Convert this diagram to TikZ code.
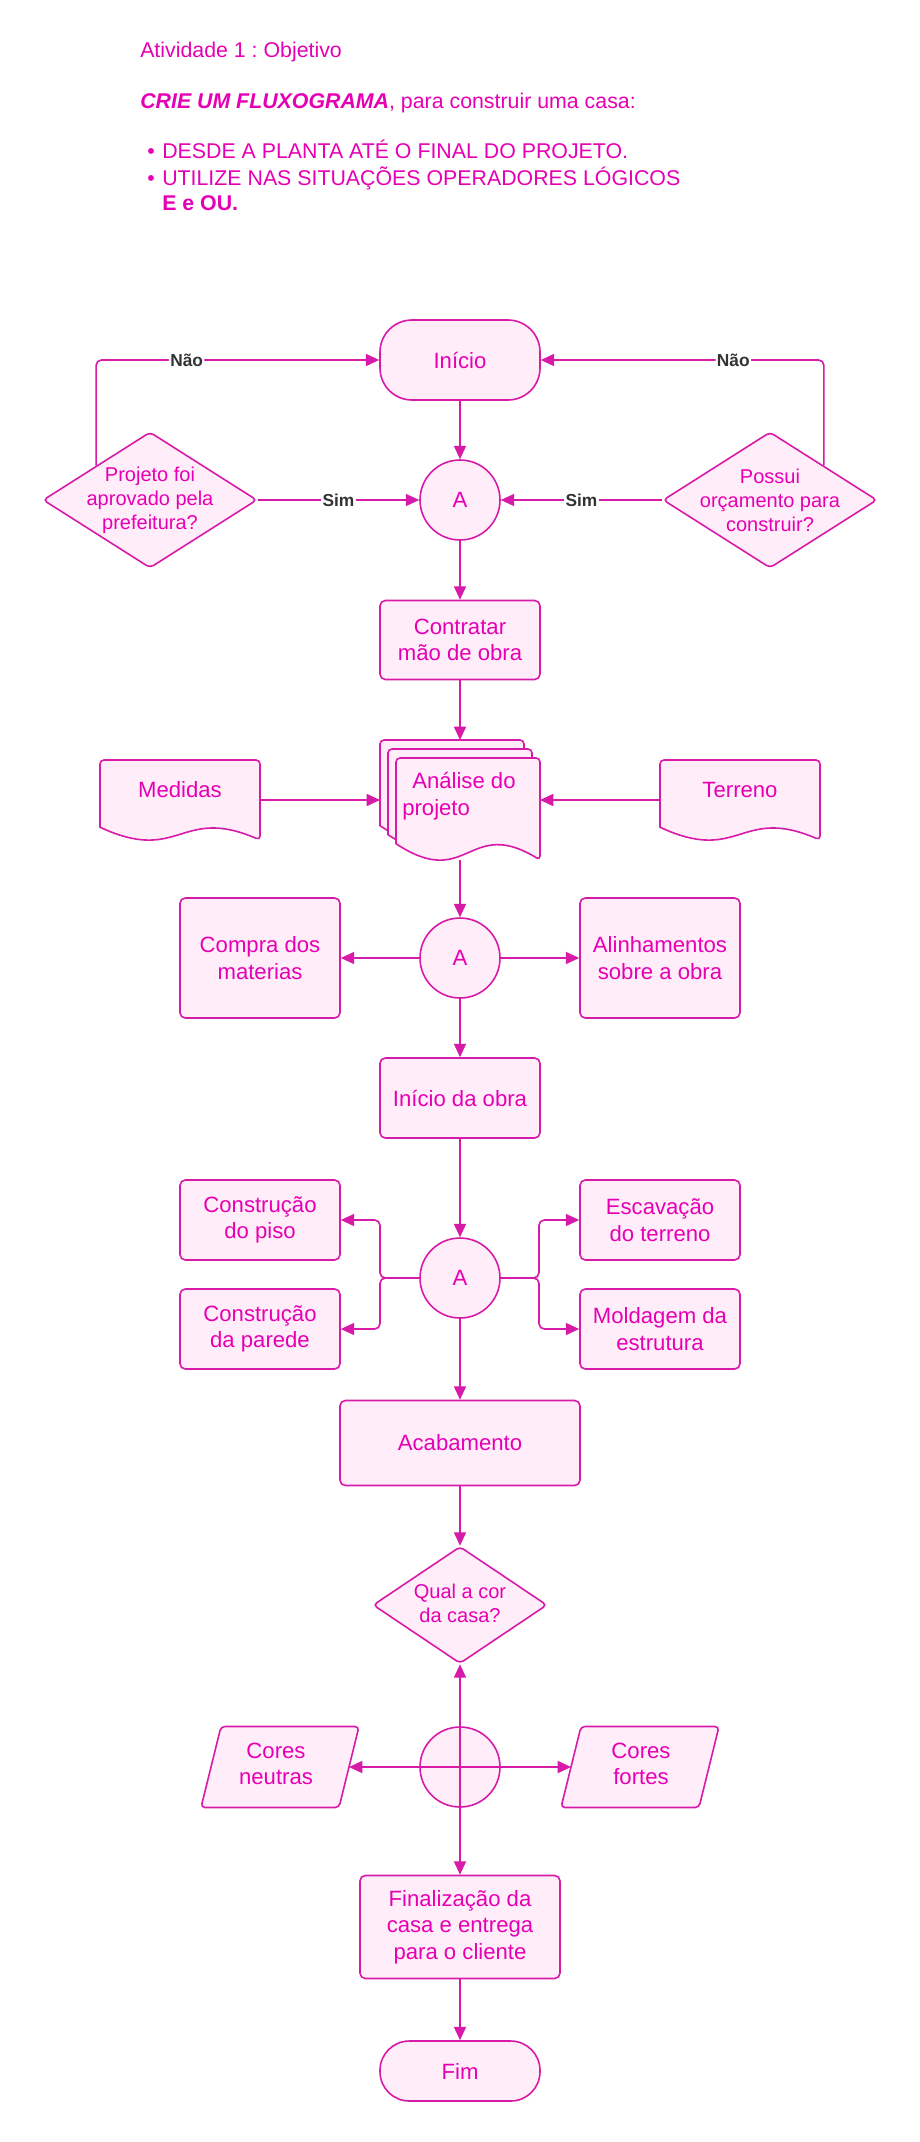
\documentclass[tikz,border=0pt]{standalone}
\usepackage{fontspec}
\setmainfont{Liberation Sans}
\usetikzlibrary{arrows.meta,shapes.geometric,calc}
\definecolor{pk}{HTML}{D81AA8}
\definecolor{pkt}{HTML}{E600B4}
\definecolor{pkf}{HTML}{FFEEFA}
\definecolor{lbl}{HTML}{333333}
\frenchspacing
\newcommand\docshape[1]{%
  \path[doc] let \p1=(#1.north west), \p2=(#1.south east), \n1={\x2-\x1}, \n2={0.16*(\y1-\y2)} in
    (\x1,{\y2+\n2}) [rounded corners=3pt] -- (\x1,\y1) -- (\x2,\y1) -- (\x2,\y2) [sharp corners]
    .. controls ({\x1+0.5*\n1},{\y2+2.7*\n2}) and ({\x1+0.5*\n1},{\y2-1.92*\n2}) .. (\x1,{\y2+\n2}) -- cycle;}
\newcommand\paral[1]{%
  \path[doc,rounded corners=3pt] ([xshift=7.5pt]#1.north west) -- ([xshift=7.5pt]#1.north east)
    -- ([xshift=-7.5pt]#1.south east) -- ([xshift=-7.5pt]#1.south west) -- cycle;}
\begin{document}
\begin{tikzpicture}[x=0.75pt,y=-0.75pt,
  nodefont/.style={font=\fontsize{16.6}{19.9}\selectfont},
  box/.style={draw=pk, fill=pkf, line width=1.2pt, rounded corners=4pt, text=pkt, nodefont, align=center, inner sep=0pt},
  term/.style={box, rounded corners=24pt},
  circ/.style={draw=pk, fill=pkf, line width=1.2pt, circle, minimum size=60pt, inner sep=0pt, text=pkt, nodefont},
  dec/.style={diamond, draw=pk, fill=pkf, line width=1.2pt, rounded corners=3pt, inner sep=0pt},
  dtext/.style={text=pkt, font=\fontsize{15}{18}\selectfont, align=center, inner sep=0pt},
  ntext/.style={text=pkt, nodefont, align=center, inner sep=0pt},
  ghost/.style={draw=none, rectangle, inner sep=0pt, outer sep=0pt},
  doc/.style={draw=pk, fill=pkf, line width=1.2pt},
  arr/.style={draw=pk, line width=1.2pt, -{Triangle[length=10pt,width=9pt]}},
  lab/.style={fill=white, text=lbl, font=\bfseries\fontsize{13}{15}\selectfont, inner sep=1pt},
  hdr/.style={text=pkt, font=\fontsize{16}{19}\selectfont, anchor=base west, inner sep=0pt}]
\useasboundingbox (0,0) rectangle (920,2142);
\fill[white] (0,0) rectangle (920,2142);

% header
\node[hdr] (h1) at (140,57) {Atividade 1 : Objetivo};
\node[hdr] (h2) at (140,108) {\textbf{\textit{CRIE UM FLUXOGRAMA}}, para construir uma casa:};
\node[hdr] (h3) at (147,158) {\makebox[11.25pt][l]{•}DESDE A PLANTA ATÉ O FINAL DO PROJETO.};
\node[hdr] (h4) at (147,185) {\makebox[11.25pt][l]{•}UTILIZE NAS SITUAÇÕES OPERADORES LÓGICOS};
\node[hdr] (h5) at (162,210) {\textbf{E e OU.}};

% top section
\node[term, minimum width=120pt, minimum height=60pt] (inicio) at (460,360) {Início};
\node[circ] (A1) at (460,500) {A};
\node[dec, minimum width=160.5pt, minimum height=102pt] (ld) at (150,500) {};
\node[dtext] (ldt) at (ld) {Projeto foi\\aprovado pela\\prefeitura?};
\node[dec, minimum width=160.5pt, minimum height=102pt] (rd) at (770,500) {};
\node[dtext] (rdt) at (rd) {Possui\\orçamento para\\construir?};
\node[box, minimum width=120pt, minimum height=59.25pt] (contratar) at (460,640) {Contratar\\mão de obra};

\draw[arr, rounded corners=4pt] (ld.north west) |- node[lab,pos=0.66]{Não} (inicio.west);
\draw[arr, rounded corners=4pt] (rd.north east) |- node[lab,pos=0.66]{Não} (inicio.east);
\draw[arr] (ld.east) -- node[lab]{Sim} (A1.west);
\draw[arr] (rd.west) -- node[lab]{Sim} (A1.east);
\draw[arr] (inicio.south) -- (A1.north);
\draw[arr] (A1.south) -- (contratar.north);

% documents
\node[ghost, minimum width=120pt, minimum height=60pt] (medidas) at (180,800) {};
\docshape{medidas}
\node[ntext] (medidast) at (180,790) {Medidas};
\node[ghost, minimum width=120pt, minimum height=60pt] (terreno) at (740,800) {};
\docshape{terreno}
\node[ntext] (terrenot) at (740,790) {Terreno};

\node[ghost, minimum width=108pt, minimum height=76.5pt] (p1) at (452,791) {};
\node[ghost, minimum width=108pt, minimum height=76.5pt] (p2) at (460,800) {};
\node[ghost, minimum width=108pt, minimum height=76.5pt] (p3) at (468,809) {};
\docshape{p1}
\docshape{p2}
\docshape{p3}
\node[ghost, minimum width=120pt, minimum height=90pt] (analise) at (460,800) {};
\node[ntext, align=left, anchor=west] (analiset) at (402,796) {\hspace*{7.5pt}Análise do\\projeto};

\draw[arr] (contratar.south) -- (analise.north);
\draw[arr] (medidas.east) -- (analise.west);
\draw[arr] (terreno.west) -- (analise.east);

% second A
\node[circ] (A2) at (460,958) {A};
\node[box, minimum width=120pt, minimum height=90pt] (compra) at (260,958) {Compra dos\\materias};
\node[box, minimum width=120pt, minimum height=90pt] (alin) at (660,958) {Alinhamentos\\sobre a obra};
\node[box, minimum width=120pt, minimum height=60pt] (iobra) at (460,1098) {Início da obra};
\draw[arr] (analise.south) -- (A2.north);
\draw[arr] (A2.west) -- (compra.east);
\draw[arr] (A2.east) -- (alin.west);
\draw[arr] (A2.south) -- (iobra.north);

% third A
\node[circ] (A3) at (460,1278) {A};
\node[box, minimum width=120pt, minimum height=60pt] (piso) at (260,1220) {Construção\\do piso};
\node[box, minimum width=120pt, minimum height=60pt] (parede) at (260,1329) {Construção\\da parede};
\node[box, minimum width=120pt, minimum height=60pt] (escav) at (660,1220) {Escavação\\do terreno};
\node[box, minimum width=120pt, minimum height=60pt] (molda) at (660,1329) {Moldagem da\\estrutura};
\coordinate (jl) at (380,1278);
\coordinate (jr) at (539,1278);
\draw[arr] (iobra.south) -- (A3.north);
\draw[arr, rounded corners=4pt] (A3.west) -- (jl) |- (piso.east);
\draw[arr, rounded corners=4pt] (A3.west) -- (jl) |- (parede.east);
\draw[arr, rounded corners=4pt] (A3.east) -- (jr) |- (escav.west);
\draw[arr, rounded corners=4pt] (A3.east) -- (jr) |- (molda.west);

\node[box, minimum width=180pt, minimum height=63.75pt] (acab) at (460,1443) {Acabamento};
\draw[arr] (A3.south) -- (acab.north);

\node[dec, minimum width=130.5pt, minimum height=87.75pt] (qual) at (460,1605) {};
\node[dtext] (qualt) at (460,1603) {Qual a cor\\da casa?};
\draw[arr] (acab.south) -- (qual.north);

% OR junction
\node[circ] (X) at (460,1767) {};
\node[ghost, minimum width=103.5pt, minimum height=60.75pt] (neutras) at (280,1767) {};
\paral{neutras}
\node[ntext] (neutrast) at (276,1764) {Cores\\neutras};
\node[ghost, minimum width=103.5pt, minimum height=60.75pt] (fortes) at (640,1767) {};
\paral{fortes}
\node[ntext] (fortest) at (641,1764) {Cores\\fortes};

\node[box, minimum width=150pt, minimum height=77.25pt] (final) at (460,1927) {Finalização da\\casa e entrega\\para o cliente};
\node[term, rounded corners=22pt, minimum width=120pt, minimum height=45pt] (fim) at (460,2071) {Fim};

\draw[arr] (X.center) -- (qual.south);
\draw[arr] (X.center) -- (final.north);
\draw[arr] (X.center) -- (neutras.east);
\draw[arr] (X.center) -- (fortes.west);
\draw[arr] (final.south) -- (fim.north);
\end{tikzpicture}
\end{document}
